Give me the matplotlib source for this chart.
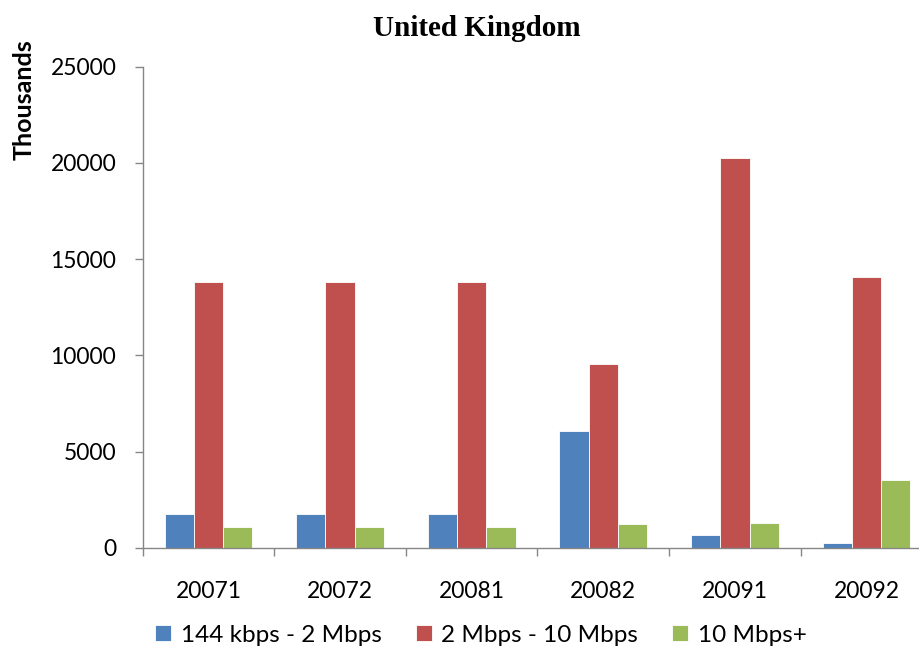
import numpy as np
import matplotlib
matplotlib.use("Agg")
import matplotlib.pyplot as plt

# data (thousands)
periods = ["20071", "20072", "20081", "20082", "20091", "20092"]
series_names = ["144 kbps - 2 Mbps", "2 Mbps - 10 Mbps", "10 Mbps+"]
slow = [1740, 1740, 1740, 6070, 640, 260]
mid = [13800, 13800, 13800, 9560, 20240, 14070]
fast = [1060, 1060, 1060, 1210, 1300, 3520]
yticks = [0, 5000, 10000, 15000, 20000, 25000]

colors = ["#4F81BD", "#C0504D", "#9BBB59"]
axis_grey = "#868686"
plt.rcParams['font.family'] = ['Lato', 'DejaVu Sans']

fig = plt.figure(figsize=(9.2, 6.48), dpi=100)
# plot area runs past the right edge, as in the source image
ax = fig.add_axes([142.7 / 920, 1 - 547.7 / 648, 789.6 / 920, 481 / 648])

x = np.arange(len(periods))
w = 1 / 4.5
bars = []
for k, vals in enumerate([slow, mid, fast]):
    b = ax.bar(x + (k - 1) * w, vals, w, color=colors[k],
               edgecolor="white", linewidth=0.6, label=series_names[k])
    bars.append(b)

ax.set_xlim(-0.5, len(periods) - 0.5)
ax.set_ylim(0, 25000)
ax.set_yticks(yticks)
ax.set_yticklabels([str(v) for v in yticks])
ax.set_xticks(x)
ax.set_xticklabels(periods)
ax.set_xticks(np.arange(-0.5, len(periods)), minor=True)

for s in ["top", "right"]:
    ax.spines[s].set_visible(False)
for s in ["left", "bottom"]:
    ax.spines[s].set_color(axis_grey)
    ax.spines[s].set_linewidth(1.0)

ax.tick_params(axis="y", direction="out", length=6, width=1.0, color=axis_grey,
               pad=13, labelsize=16.5)
ax.tick_params(axis="x", which="major", length=0, pad=24, labelsize=16.5)
ax.tick_params(axis="x", which="minor", direction="out", length=6, width=1.0,
               color=axis_grey)

fig.text(477 / 920, 1 - 28 / 648, "United Kingdom", ha="center", va="center",
         fontsize=21, fontweight="bold", family=["Liberation Serif", "DejaVu Serif"])
fig.text(24 / 920, 1 - 100 / 648, "Thousands", ha="center", va="center",
         rotation=90, fontsize=18, fontweight="bold")

fig.legend(handles=bars, loc="center", bbox_to_anchor=(481 / 920, 1 - 635 / 648),
           ncol=3, frameon=False, fontsize=17.5, handlelength=0.65,
           handleheight=0.65, handletextpad=0.4, columnspacing=1.4)

fig.savefig("out.png", dpi=100)
